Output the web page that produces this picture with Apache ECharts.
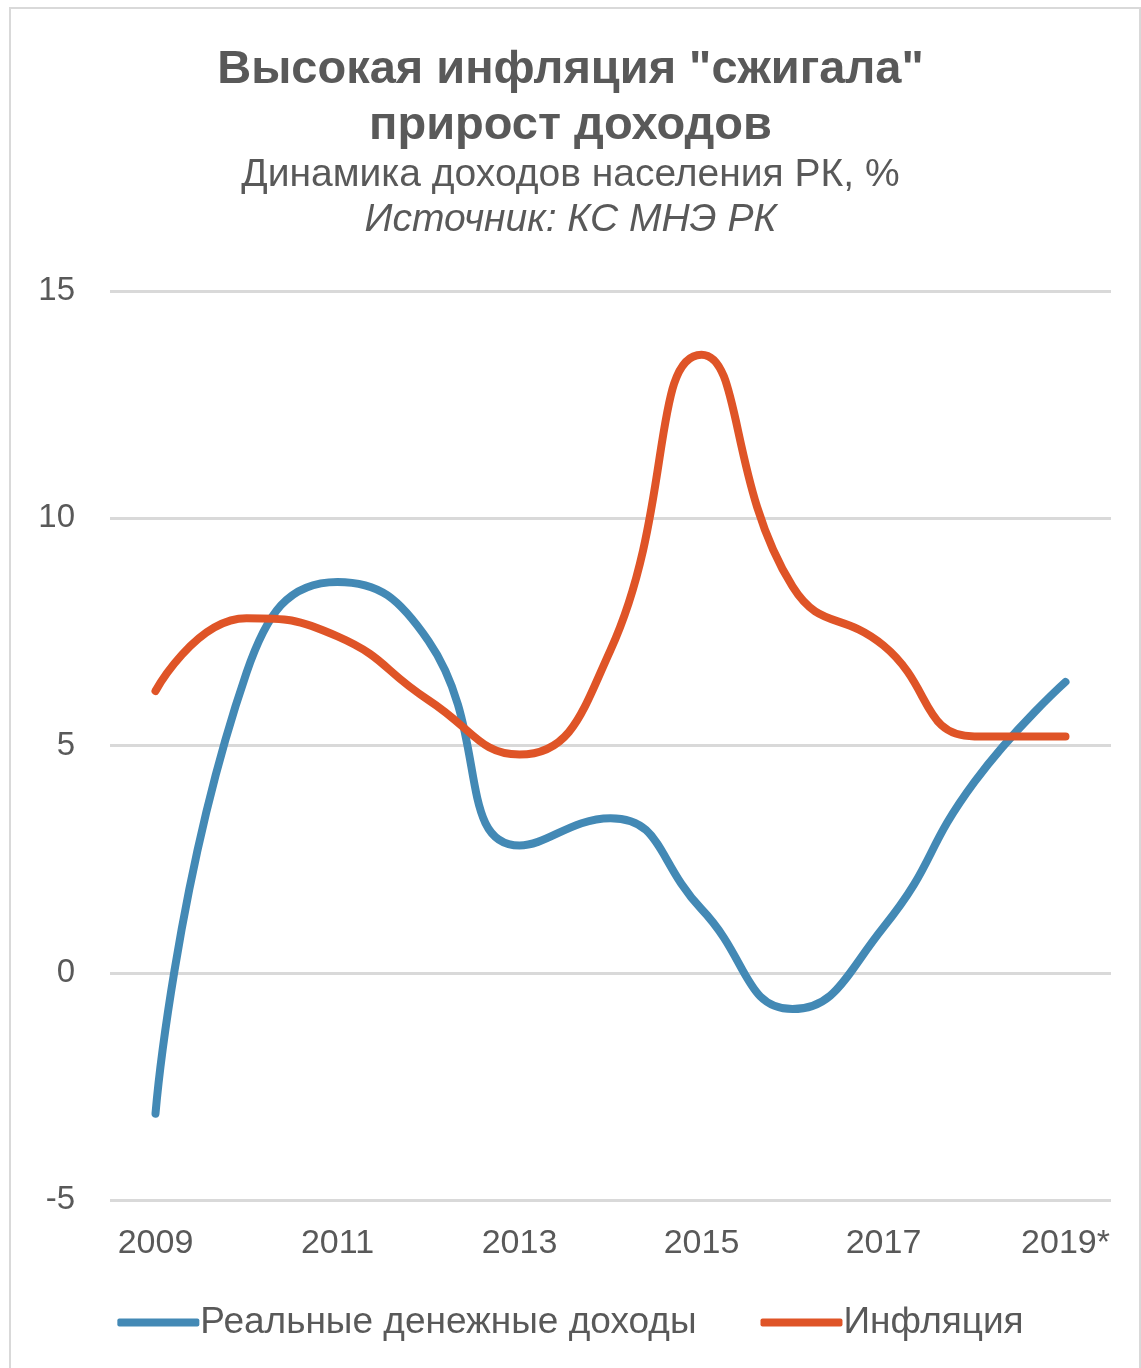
<!DOCTYPE html>
<html>
<head>
<meta charset="utf-8">
<script src="https://cdn.jsdelivr.net/npm/echarts@6/dist/echarts.min.js"></script>
<style>
  html, body { margin: 0; padding: 0; background: #fff; }
  #chart { width: 1141px; height: 1368px; }
</style>
</head>
<body>
<div id="chart"></div>
<script>
const years = ['2009', '2010', '2011', '2012', '2013', '2014', '2015', '2016', '2017', '2018', '2019*']
const realIncome = [-3.1, 6.6, 8.6, 7.3, 2.8, 3.4, 1.4, -0.8, 1.0, 4.2, 6.4]
const inflation = [6.2, 7.8, 7.4, 6.0, 4.8, 7.1, 13.6, 8.5, 7.2, 5.2, 5.2]
const seriesNames = ['Реальные денежные доходы', 'Инфляция']

const textColor = '#595959'
const font = '"Liberation Sans", Arial, sans-serif'

const chart = echarts.init(document.getElementById('chart'))
chart.setOption({
    backgroundColor: '#fff',
    textStyle: { fontFamily: font },
    title: [
        {
            text: 'Высокая инфляция "сжигала"\nприрост доходов',
            left: 'center',
            top: 37,
            textStyle: { fontSize: 47, fontWeight: 'bold', color: textColor, lineHeight: 56, fontFamily: font }
        },
        {
            text: 'Динамика доходов населения РК, %',
            left: 'center',
            top: 151,
            textStyle: { fontSize: 39, fontWeight: 'normal', color: textColor, fontFamily: font }
        },
        {
            text: 'Источник: КС МНЭ РК',
            left: 'center',
            top: 196,
            textStyle: { fontSize: 39, fontWeight: 'normal', fontStyle: 'italic', color: textColor, fontFamily: font }
        }
    ],
    graphic: [{
        type: 'rect',
        shape: { x: 10, y: 8, width: 1130, height: 1370 },
        style: { fill: 'none', stroke: '#d9d9d9', lineWidth: 2 },
        silent: true
    }],
    legend: {
        data: seriesNames,
        bottom: 22,
        left: 'center',
        icon: 'roundRect',
        itemWidth: 82,
        itemHeight: 8,
        itemGap: 64,
        textStyle: { fontSize: 37, color: textColor, fontFamily: font, padding: [0, 0, 0, -4] }
    },
    grid: {
        left: 110,
        right: 30,
        top: 291,
        bottom: 168
    },
    xAxis: {
        type: 'category',
        data: years,
        boundaryGap: true,
        axisLine: { show: false },
        axisTick: { show: false },
        axisLabel: { interval: 1, fontSize: 34, color: textColor, margin: 27, fontFamily: font }
    },
    yAxis: {
        type: 'value',
        min: -5,
        max: 15,
        interval: 5,
        axisLine: { show: false },
        axisTick: { show: false },
        axisLabel: { fontSize: 33, color: textColor, margin: 35, fontFamily: font },
        splitLine: { lineStyle: { color: '#d9d9d9', width: 3 } }
    },
    series: [
        {
            name: seriesNames[0],
            type: 'line',
            data: realIncome,
            smooth: 0.5,
            symbol: 'none',
            color: '#4389b5',
            lineStyle: { width: 8, cap: 'round' }
        },
        {
            name: seriesNames[1],
            type: 'line',
            data: inflation,
            smooth: 0.5,
            symbol: 'none',
            color: '#df5427',
            lineStyle: { width: 8, cap: 'round' }
        }
    ]
})
</script>
</body>
</html>
